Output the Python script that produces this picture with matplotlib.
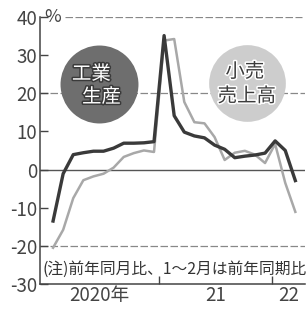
import matplotlib
matplotlib.use("Agg")
import matplotlib.pyplot as plt
import matplotlib.patheffects as pe
import numpy as np

plt.rcParams['font.family'] = ['Noto Sans CJK JP', 'DejaVu Sans']

# Monthly data: Jan-Feb combined as one point, then Mar..Dec; 2020-01/02 .. 2022-04
months = ["2020-1/2", "2020-03", "2020-04", "2020-05", "2020-06", "2020-07", "2020-08",
          "2020-09", "2020-10", "2020-11", "2020-12",
          "2021-1/2", "2021-03", "2021-04", "2021-05", "2021-06", "2021-07", "2021-08",
          "2021-09", "2021-10", "2021-11", "2021-12",
          "2022-1/2", "2022-03", "2022-04"]
industrial = [-13.5, -1.1, 3.9, 4.4, 4.8, 4.8, 5.6, 6.9, 6.9, 7.0, 7.3,
              35.1, 14.1, 9.8, 8.8, 8.3, 6.4, 5.3, 3.1, 3.5, 3.8, 4.3,
              7.5, 5.0, -2.9]
retail = [-20.5, -15.8, -7.5, -2.8, -1.8, -1.1, 0.5, 3.3, 4.3, 5.0, 4.6,
          33.8, 34.2, 17.7, 12.4, 12.1, 8.5, 2.5, 4.4, 4.9, 3.9, 1.7,
          6.7, -3.5, -11.1]
yticks = [40, 30, 20, 10, 0, -10, -20, -30]
ytick_labels = ["40", "30", "20", "10", "0", "-10", "-20", "-30"]
year_labels = ["2020年", "21", "22"]

x = np.arange(len(months))

fig = plt.figure(figsize=(3.08, 3.15), dpi=100)
fig.patch.set_facecolor('white')
ax = fig.add_axes([0.13, 0.0984, 0.86, 0.848])
ax.set_xlim(-1.29, 24.95)
ax.set_ylim(-30, 40)

# grid lines
ax.axhline(0, color='#555555', lw=1.0, zorder=1)
for yv in (20, -20):
    ax.axhline(yv, color='#888888', lw=0.9, ls=(0, (6, 2)), zorder=1)
ax.hlines(40, 1.2, 24.7, color='#888888', lw=0.9, ls=(0, (6, 2)), zorder=1)

# circles with labels
ax.scatter([4.55], [22.5], s=3150, color='#6e6e6e', zorder=2, linewidths=0)
ax.scatter([19.2], [22.7], s=3050, color='#cdcdcd', zorder=2, linewidths=0)
w_eff = [pe.withStroke(linewidth=2.2, foreground='#3a3a3a')]
d_eff = [pe.withStroke(linewidth=2.2, foreground='white')]
ax.text(3.8, 25.0, "工業", fontsize=14, color='white', ha='center', va='center',
        path_effects=w_eff, zorder=3)
ax.text(4.8, 19.0, "生産", fontsize=14, color='white', ha='center', va='center',
        path_effects=w_eff, zorder=3)
ax.text(19.0, 25.6, "小売", fontsize=14, color='#3c3c3c', ha='center', va='center',
        path_effects=d_eff, zorder=3)
ax.text(19.2, 19.2, "売上高", fontsize=14, color='#3c3c3c', ha='center', va='center',
        path_effects=d_eff, zorder=3)

# lines
ax.plot(x, retail, color='#a8a8a8', lw=1.8, zorder=4, solid_joinstyle='round')
ax.plot(x, industrial, color='#3a3a3a', lw=2.4, zorder=5, solid_joinstyle='round')

# note
ax.text(-1.05, -26.2, "(注)前年同月比、1～2月は前年同期比", fontsize=11.3, color='#333333',
        ha='left', va='center', zorder=6)
ax.text(-0.9, 40, "%", fontsize=13, color='#444444', ha='left', va='center')

# spines and ticks
for s in ('top', 'right'):
    ax.spines[s].set_visible(False)
for s in ('left', 'bottom'):
    ax.spines[s].set_color('#444444')
    ax.spines[s].set_linewidth(1.1)
ax.set_yticks(yticks)
ax.set_yticklabels(ytick_labels)
ax.tick_params(axis='y', direction='in', length=6, width=1.0, color='#444444',
               labelsize=13.5, labelcolor='#444444', pad=2)
ax.set_xticks([10.5, 21.7])
ax.set_xticklabels([])
ax.set_xticks([4.6, 16.1, 23.3], minor=True)
ax.set_xticklabels(year_labels, minor=True)
ax.tick_params(axis='x', which='major', direction='in', length=6, width=1.0, color='#444444')
ax.tick_params(axis='x', which='minor', length=0, labelsize=13.5, labelcolor='#444444', pad=1)

fig.savefig("out.png", dpi=100, facecolor='white')
